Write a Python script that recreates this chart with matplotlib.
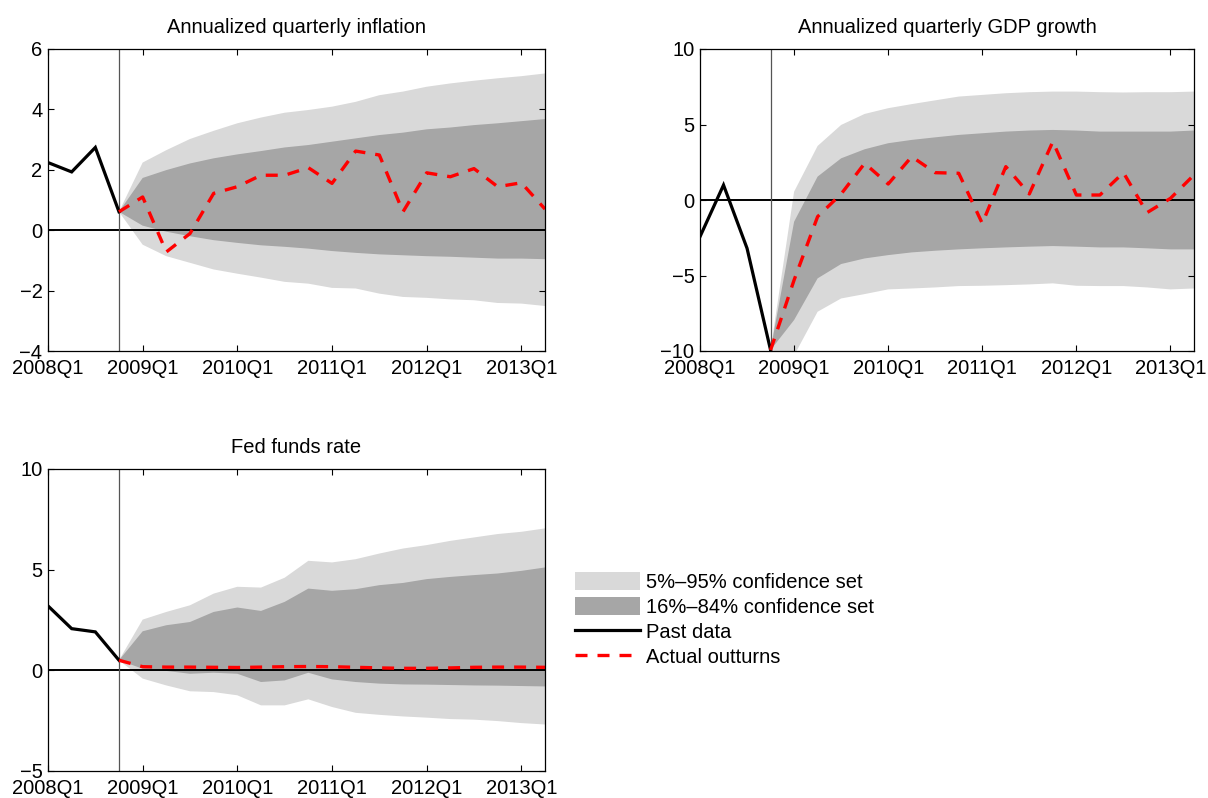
import matplotlib
matplotlib.use("Agg")
import matplotlib.pyplot as plt
from matplotlib.patches import Patch
from matplotlib.lines import Line2D

plt.rcParams['font.family'] = ['Liberation Sans', 'DejaVu Sans']

# ---------------- data ----------------
quarter_ticks = [0, 4, 8, 12, 16, 20]
quarter_labels = ['2008Q1', '2009Q1', '2010Q1', '2011Q1', '2012Q1', '2013Q1']
past_x = [0, 1, 2, 3]
fc_x = list(range(3, 22))

# Inflation
past_infl = [2.24, 1.93, 2.74, 0.61]
actual_infl = [0.61, 1.10, -0.72, -0.11, 1.22, 1.44, 1.82, 1.82, 2.07, 1.55,
               2.62, 2.49, 0.61, 1.90, 1.77, 2.04, 1.44, 1.57, 0.70]
light_top_infl = [0.61, 2.24, 2.65, 3.02, 3.29, 3.54, 3.73, 3.89, 3.98, 4.09,
                  4.25, 4.47, 4.59, 4.75, 4.86, 4.95, 5.03, 5.10, 5.19]
dark_top_infl = [0.61, 1.73, 1.99, 2.21, 2.38, 2.51, 2.62, 2.74, 2.82, 2.93,
                 3.04, 3.15, 3.23, 3.34, 3.40, 3.48, 3.54, 3.61, 3.68]
dark_bot_infl = [0.61, 0.15, -0.05, -0.20, -0.33, -0.42, -0.50, -0.55, -0.61, -0.69,
                 -0.75, -0.80, -0.83, -0.86, -0.88, -0.91, -0.94, -0.94, -0.96]
light_bot_infl = [0.61, -0.48, -0.86, -1.08, -1.30, -1.44, -1.57, -1.71, -1.77, -1.91,
                  -1.93, -2.10, -2.21, -2.24, -2.29, -2.32, -2.41, -2.43, -2.51]

# GDP growth
past_gdp = [-2.43, 0.99, -3.20, -9.94]
actual_gdp = [-9.94, -5.30, -1.10, 0.40, 2.43, 1.06, 2.87, 1.81, 1.77, -1.55,
              2.21, 0.40, 3.87, 0.33, 0.33, 1.81, -0.84, 0.11, 1.66]
light_top_gdp = [-9.94, 0.55, 3.58, 4.97, 5.70, 6.08, 6.35, 6.60, 6.85, 6.96,
                 7.07, 7.14, 7.18, 7.18, 7.14, 7.12, 7.14, 7.14, 7.18]
dark_top_gdp = [-9.94, -1.44, 1.55, 2.76, 3.36, 3.76, 3.98, 4.15, 4.31, 4.42,
                4.53, 4.60, 4.64, 4.60, 4.53, 4.53, 4.53, 4.53, 4.60]
dark_bot_gdp = [-9.94, -7.95, -5.19, -4.24, -3.87, -3.65, -3.47, -3.36, -3.27, -3.20,
                -3.14, -3.09, -3.05, -3.09, -3.14, -3.14, -3.20, -3.27, -3.27]
light_bot_gdp = [-9.94, -10.30, -7.40, -6.52, -6.23, -5.92, -5.86, -5.79, -5.70, -5.68,
                 -5.64, -5.59, -5.52, -5.68, -5.70, -5.70, -5.79, -5.92, -5.86]

# Fed funds rate
past_ffr = [3.20, 2.07, 1.91, 0.50]
actual_ffr = [0.50, 0.18, 0.16, 0.16, 0.15, 0.14, 0.16, 0.18, 0.19, 0.18,
              0.15, 0.12, 0.10, 0.10, 0.12, 0.15, 0.16, 0.16, 0.15]
light_top_ffr = [0.50, 2.52, 2.90, 3.23, 3.81, 4.15, 4.11, 4.60, 5.44, 5.36,
                 5.52, 5.80, 6.05, 6.22, 6.43, 6.60, 6.77, 6.88, 7.05]
dark_top_ffr = [0.50, 1.94, 2.24, 2.40, 2.90, 3.12, 2.95, 3.40, 4.06, 3.95,
                4.03, 4.23, 4.34, 4.53, 4.64, 4.73, 4.81, 4.94, 5.11]
dark_bot_ffr = [0.50, 0.08, -0.03, -0.17, -0.12, -0.17, -0.58, -0.50, -0.12, -0.45,
                -0.58, -0.66, -0.70, -0.71, -0.73, -0.75, -0.76, -0.78, -0.80]
light_bot_ffr = [0.50, -0.41, -0.75, -1.04, -1.08, -1.24, -1.74, -1.74, -1.44, -1.82,
                 -2.11, -2.21, -2.29, -2.35, -2.42, -2.45, -2.52, -2.62, -2.69]

titles = ['Annualized quarterly inflation', 'Annualized quarterly GDP growth', 'Fed funds rate']
legend_labels = ['5%\u201395% confidence set', '16%\u201384% confidence set',
                 'Past data', 'Actual outturns']

# ---------------- style ----------------
LIGHT = '#d9d9d9'
DARK = '#a6a6a6'
FS = 14.5
W, H = 1208, 798

fig = plt.figure(figsize=(W / 100, H / 100), dpi=100)


def px_axes(left, top, right, bottom):
    return fig.add_axes([left / W, 1 - bottom / H, (right - left) / W, (bottom - top) / H])


def panel(ax, past, actual, lt, dt, db, lb, ylim, yticks, title):
    ax.fill_between(fc_x, lb, lt, facecolor=LIGHT, edgecolor='none', zorder=1)
    ax.fill_between(fc_x, db, dt, facecolor=DARK, edgecolor='none', zorder=2)
    ax.axhline(0, color='black', lw=1.4, zorder=3)
    ax.axvline(3, color='#555555', lw=0.9, zorder=3)
    ax.plot(past_x, past, color='black', lw=2.3, zorder=4, solid_joinstyle='miter')
    ax.plot(fc_x, actual, color='red', lw=2.4, dashes=(3.6, 3.0), zorder=5)
    ax.set_xlim(0, 21)
    ax.set_ylim(*ylim)
    ax.set_yticks(yticks)
    ax.set_xticks(quarter_ticks)
    ax.set_xticklabels(quarter_labels)
    ax.tick_params(direction='in', length=4, width=0.8, top=True, right=True,
                   labelsize=FS, color='black')
    ax.tick_params(axis='x', pad=6)
    ax.tick_params(axis='y', pad=4)
    for s in ax.spines.values():
        s.set_linewidth(0.9)
        s.set_zorder(6)
    ax.set_title(title, fontsize=FS, pad=11.5)


ax1 = px_axes(48, 49, 545, 351)
panel(ax1, past_infl, actual_infl, light_top_infl, dark_top_infl, dark_bot_infl,
      light_bot_infl, (-4, 6), [-4, -2, 0, 2, 4, 6], titles[0])

ax2 = px_axes(700, 49, 1194, 351)
panel(ax2, past_gdp, actual_gdp, light_top_gdp, dark_top_gdp, dark_bot_gdp,
      light_bot_gdp, (-10, 10), [-10, -5, 0, 5, 10], titles[1])

ax3 = px_axes(48, 469, 545, 771)
panel(ax3, past_ffr, actual_ffr, light_top_ffr, dark_top_ffr, dark_bot_ffr,
      light_bot_ffr, (-5, 10), [-5, 0, 5, 10], titles[2])

handles = [Patch(facecolor=LIGHT, edgecolor='none'),
           Patch(facecolor=DARK, edgecolor='none'),
           Line2D([], [], color='black', lw=2.3),
           Line2D([], [], color='red', lw=2.4, dashes=(3.6, 3.0))]
fig.legend(handles, legend_labels, loc='upper left',
           bbox_to_anchor=(575 / W, 1 - 572 / H), frameon=False,
           borderpad=0, borderaxespad=0, handlelength=3.25, handleheight=1.0,
           handletextpad=0.3, labelspacing=0.25, fontsize=FS)

fig.savefig('out.png', dpi=100)
